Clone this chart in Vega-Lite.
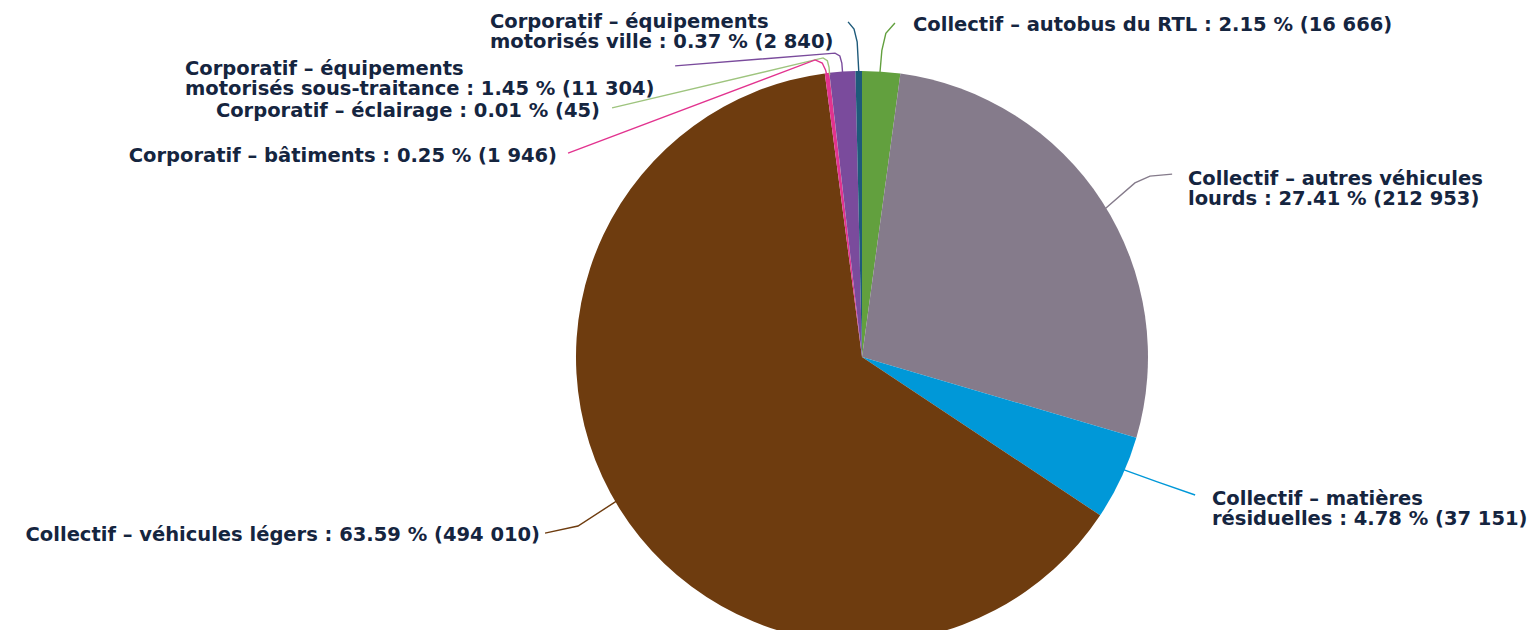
{
  "$schema": "https://vega.github.io/schema/vega-lite/v6.json",
  "width": 1537,
  "height": 630,
  "autosize": {"type": "none"},
  "padding": 0,
  "background": "white",
  "config": {"view": {"stroke": null}},
  "datasets": {
    "slices": [
      {"cat": "autobus", "idx": 1, "v": 16666},
      {"cat": "autres", "idx": 2, "v": 212953},
      {"cat": "matieres", "idx": 3, "v": 37151},
      {"cat": "legers", "idx": 4, "v": 494010},
      {"cat": "batiments", "idx": 5, "v": 1946},
      {"cat": "eclairage", "idx": 6, "v": 45},
      {"cat": "soustraitance", "idx": 7, "v": 11304},
      {"cat": "ville", "idx": 8, "v": 2840}
    ],
    "leaders": [
      {"cat": "autobus", "seq": 1, "x": 0.116, "y": 1.176},
      {"cat": "autobus", "seq": 2, "x": 0.084, "y": 1.14},
      {"cat": "autobus", "seq": 3, "x": 0.07, "y": 1.08},
      {"cat": "autobus", "seq": 4, "x": 0.063, "y": 0.998},
      {"cat": "ville", "seq": 1, "x": -0.049, "y": 1.18},
      {"cat": "ville", "seq": 2, "x": -0.028, "y": 1.155},
      {"cat": "ville", "seq": 3, "x": -0.017, "y": 1.11},
      {"cat": "ville", "seq": 4, "x": -0.011, "y": 0.999},
      {"cat": "soustraitance", "seq": 1, "x": -0.658, "y": 1.025},
      {"cat": "soustraitance", "seq": 2, "x": -0.095, "y": 1.07},
      {"cat": "soustraitance", "seq": 3, "x": -0.078, "y": 1.06},
      {"cat": "soustraitance", "seq": 4, "x": -0.071, "y": 1.035},
      {"cat": "soustraitance", "seq": 5, "x": -0.068, "y": 0.997},
      {"cat": "eclairage", "seq": 1, "x": -0.88, "y": 0.877},
      {"cat": "eclairage", "seq": 2, "x": -0.137, "y": 1.053},
      {"cat": "eclairage", "seq": 3, "x": -0.122, "y": 1.043},
      {"cat": "eclairage", "seq": 4, "x": -0.116, "y": 1.02},
      {"cat": "eclairage", "seq": 5, "x": -0.114, "y": 0.993},
      {"cat": "batiments", "seq": 1, "x": -1.035, "y": 0.718},
      {"cat": "batiments", "seq": 2, "x": -0.165, "y": 1.046},
      {"cat": "batiments", "seq": 3, "x": -0.14, "y": 1.035},
      {"cat": "batiments", "seq": 4, "x": -0.128, "y": 1.01},
      {"cat": "batiments", "seq": 5, "x": -0.124, "y": 0.992},
      {"cat": "autres", "seq": 1, "x": 1.092, "y": 0.644},
      {"cat": "autres", "seq": 2, "x": 1.014, "y": 0.637},
      {"cat": "autres", "seq": 3, "x": 0.961, "y": 0.613},
      {"cat": "autres", "seq": 4, "x": 0.854, "y": 0.52},
      {"cat": "matieres", "seq": 1, "x": 1.173, "y": -0.486},
      {"cat": "matieres", "seq": 2, "x": 1.04, "y": -0.44},
      {"cat": "matieres", "seq": 3, "x": 0.918, "y": -0.396},
      {"cat": "legers", "seq": 1, "x": -1.116, "y": -0.62},
      {"cat": "legers", "seq": 2, "x": -1.0, "y": -0.595},
      {"cat": "legers", "seq": 3, "x": -0.862, "y": -0.506}
    ],
    "labels": [
      {"cat": "autobus", "lx": 0.1796, "ly": 1.1479, "label": "Collectif – autobus du RTL : 2.15 % (16 666)"},
      {"cat": "autres", "lx": 1.1479, "ly": 0.6056, "label": "Collectif – autres véhicules\nlourds : 27.41 % (212 953)"},
      {"cat": "matieres", "lx": 1.2324, "ly": -0.5211, "label": "Collectif – matières\nrésiduelles : 4.78 % (37 151)"},
      {"cat": "legers", "lx": -1.1338, "ly": -0.6479, "label": "Collectif – véhicules légers : 63.59 % (494 010)"},
      {"cat": "batiments", "lx": -1.0739, "ly": 0.6866, "label": "Corporatif – bâtiments : 0.25 % (1 946)"},
      {"cat": "eclairage", "lx": -0.9225, "ly": 0.8451, "label": "Corporatif – éclairage : 0.01 % (45)"},
      {"cat": "soustraitance", "lx": -2.3838, "ly": 0.993, "label": "Corporatif – équipements\nmotorisés sous-traitance : 1.45 % (11 304)"},
      {"cat": "ville", "lx": -1.3099, "ly": 1.1585, "label": "Corporatif – équipements\nmotorisés ville : 0.37 % (2 840)"}
    ]
  },
  "layer": [
    {
      "data": {"name": "slices"},
      "mark": {"type": "arc", "radius": 286},
      "encoding": {
        "theta": {"field": "v", "type": "quantitative", "stack": true},
        "order": {"field": "idx", "type": "quantitative"},
        "color": {
          "field": "cat", "type": "nominal", "legend": null,
          "scale": {
            "domain": ["autobus", "autres", "matieres", "legers", "batiments", "eclairage", "soustraitance", "ville"],
            "range": ["#62a03e", "#857b8b", "#0098d8", "#6e3c0f", "#e2338f", "#9ec47e", "#7a4b9c", "#1e5a7a"]
          }
        },
        "x": {"datum": 0, "type": "quantitative", "axis": null, "scale": {"domain": [-3.0352, 2.3768], "nice": false, "zero": false}},
        "y": {"datum": 0, "type": "quantitative", "axis": null, "scale": {"domain": [-0.9613, 1.257], "nice": false, "zero": false}}
      }
    },
    {
      "data": {"name": "leaders"},
      "mark": {"type": "line", "strokeWidth": 1.4, "interpolate": "linear"},
      "encoding": {
        "x": {"field": "x", "type": "quantitative", "axis": null, "scale": {"domain": [-3.0352, 2.3768], "nice": false, "zero": false}},
        "y": {"field": "y", "type": "quantitative", "axis": null, "scale": {"domain": [-0.9613, 1.257], "nice": false, "zero": false}},
        "color": {"field": "cat", "type": "nominal", "legend": null},
        "order": {"field": "seq", "type": "quantitative"}
      }
    },
    {
      "data": {"name": "labels"},
      "transform": [{"filter": {"field": "cat", "oneOf": ["autobus", "autres", "matieres", "soustraitance", "ville"]}}],
      "mark": {"type": "text", "align": "left", "baseline": "alphabetic", "lineBreak": "\n", "lineHeight": 20, "font": "DejaVu Sans", "fontWeight": "bold", "fontSize": 19.5, "fill": "#15253f"},
      "encoding": {
        "x": {"field": "lx", "type": "quantitative", "axis": null, "scale": {"domain": [-3.0352, 2.3768], "nice": false, "zero": false}},
        "y": {"field": "ly", "type": "quantitative", "axis": null, "scale": {"domain": [-0.9613, 1.257], "nice": false, "zero": false}},
        "text": {"field": "label", "type": "nominal"}
      }
    },
    {
      "data": {"name": "labels"},
      "transform": [{"filter": {"field": "cat", "oneOf": ["legers", "batiments", "eclairage"]}}],
      "mark": {"type": "text", "align": "right", "baseline": "alphabetic", "lineBreak": "\n", "lineHeight": 20, "font": "DejaVu Sans", "fontWeight": "bold", "fontSize": 19.5, "fill": "#15253f"},
      "encoding": {
        "x": {"field": "lx", "type": "quantitative", "axis": null, "scale": {"domain": [-3.0352, 2.3768], "nice": false, "zero": false}},
        "y": {"field": "ly", "type": "quantitative", "axis": null, "scale": {"domain": [-0.9613, 1.257], "nice": false, "zero": false}},
        "text": {"field": "label", "type": "nominal"}
      }
    }
  ]
}
